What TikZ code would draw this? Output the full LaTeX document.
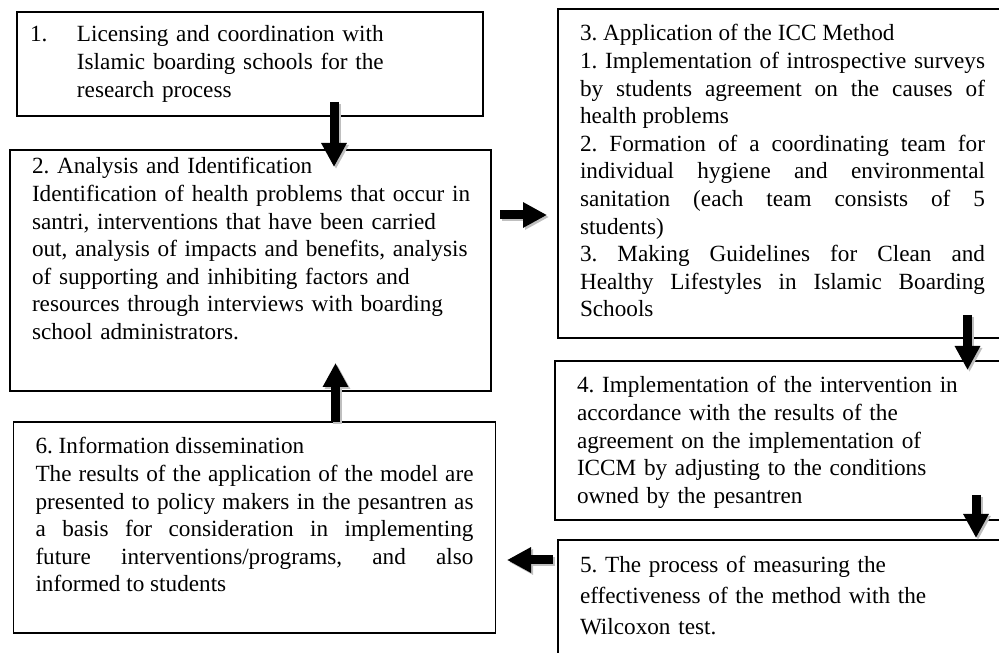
\documentclass[tikz,border=0pt]{standalone}
\usepackage{fontspec}
\setmainfont{Liberation Serif}
\usetikzlibrary{arrows.meta}
\tolerance=9999
\frenchspacing
\tikzstyle{stage} = [rectangle,
                     draw=black,
                     line width=1.5pt,
                     anchor=north west,
                     outer sep=0pt,
                     inner ysep=0pt,
                     inner xsep=22pt,
                     align=left,
                     font=\fontsize{23.2}{27.6}\selectfont\frenchspacing]
\tikzstyle{arrow} = [line width=9pt,
                     -{Triangle[width=24pt,length=24pt]}]

\begin{document}
\begin{tikzpicture}[x=1pt,y=1pt]

    \useasboundingbox (0,0) rectangle (999,653);
    \clip (0,0) rectangle (999,653);

    \node (b1) [stage, inner xsep=13pt, text width=440pt, text height=30pt, text depth=74pt] at (17,641)
        {\makebox[47pt][l]{1.}Licensing and coordination with\\
         \hspace*{47pt}Islamic boarding schools for the\\
         \hspace*{47pt}research process};
    \node (b2) [stage, text width=437pt, text height=24pt, text depth=217pt] at (10,503)
        {2. Analysis and Identification\\
         \mbox{Identification of health problems that occur in}\\
         santri, interventions that have been carried\\
         \mbox{out, analysis of impacts and benefits, analysis}\\
         of supporting and inhibiting factors and\\
         resources through interviews with boarding\\
         school administrators.};
    \node (b3) [stage, align=justify, text width=405pt, text height=32pt, text depth=297pt] at (558,644)
        {3. Application of the ICC Method\\
         1. Implementation of introspective surveys\linebreak
         by students agreement on the causes of\linebreak
         health problems\\
         2. Formation of a coordinating team for\linebreak
         individual hygiene and environmental\linebreak
         sanitation (each team consists of 5\linebreak
         students)\\
         3. Making Guidelines for Clean and\linebreak
         Healthy Lifestyles in Islamic Boarding\linebreak
         Schools};
    \node (b4) [stage, text width=430pt, text height=32pt, text depth=127pt] at (555,292)
        {4. Implementation of the intervention in\\
         accordance with the results of the\\
         agreement on the implementation of\\
         ICCM by adjusting to the conditions\\
         owned by the pesantren};
    \node (b5) [stage, font=\fontsize{23.2}{31}\selectfont\frenchspacing, text width=430pt, text height=33pt, text depth=107pt] at (558,113)
        {5. The process of measuring the\\
         effectiveness of the method with the\\
         Wilcoxon test.};
    \node (b6) [stage, align=justify, text width=438pt, text height=32pt, text depth=179pt] at (13.5,231)
        {6. Information dissemination\\
         The results of the application of the model are\linebreak
         presented to policy makers in the pesantren as\linebreak
         a basis for consideration in implementing\linebreak
         future interventions/programs, and also\linebreak
         informed to students};

    % grey shadow first, then the black arrow
    \foreach \c/\d in {gray!50/2pt, black/0pt} {
        \draw [arrow, draw=\c, transform canvas={shift={(\d,-\d)}}]
            ([xshift=84pt,yshift=14pt]b1.south) -- ([xshift=83.5pt,yshift=-17pt]b2.north);
        \draw [arrow, draw=\c, transform canvas={shift={(\d,-\d)}}]
            ([xshift=9pt,yshift=55.5pt]b2.east) -- ([xshift=-11pt,yshift=-41.5pt]b3.west);
        \draw [arrow, draw=\c, transform canvas={shift={(\d,-\d)}}]
            ([xshift=185pt,yshift=23pt]b3.south) -- ([xshift=175.5pt,yshift=-9pt]b4.north);
        \draw [arrow, draw=\c, transform canvas={shift={(\d,-\d)}}]
            ([xshift=184pt,yshift=25pt]b4.south) -- ([xshift=181pt,yshift=2pt]b5.north);
        \draw [arrow, draw=\c, transform canvas={shift={(\d,-\d)}}]
            ([xshift=-5pt,yshift=-20pt]b5.north west) -- ([xshift=11.5pt,yshift=-32.5pt]b6.east);
        \draw [arrow, draw=\c, transform canvas={shift={(\d,-\d)}}]
            ([xshift=81pt]b6.north) -- ([xshift=85pt,yshift=28pt]b2.south);
    }

\end{tikzpicture}
\end{document}
